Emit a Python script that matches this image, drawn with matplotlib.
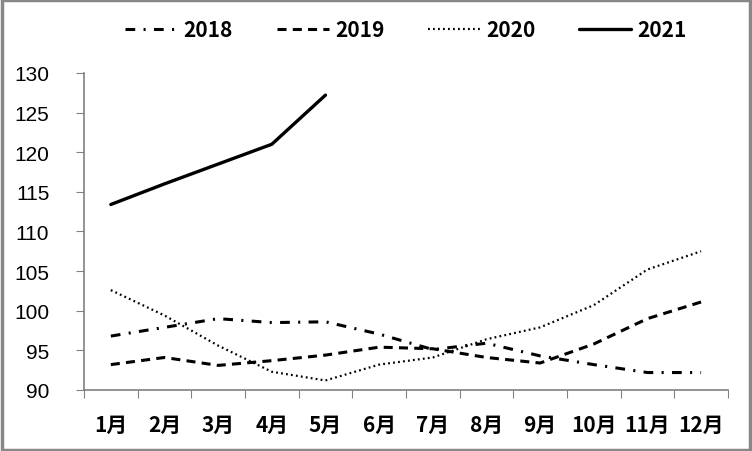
import matplotlib
matplotlib.use("Agg")
import matplotlib.pyplot as plt
from matplotlib.patches import Rectangle

months = ["1月", "2月", "3月", "4月", "5月", "6月", "7月", "8月", "9月", "10月", "11月", "12月"]
y2018 = [96.8, 97.9, 99.0, 98.5, 98.6, 97.05, 95.1, 95.9, 94.3, 93.2, 92.2, 92.2]
y2019 = [93.2, 94.1, 93.1, 93.7, 94.4, 95.4, 95.2, 94.1, 93.4, 95.8, 99.0, 101.1]
y2020 = [102.6, 99.4, 95.6, 92.3, 91.2, 93.2, 94.1, 96.4, 97.9, 100.7, 105.2, 107.5]
y2021 = [113.4, 116.0, 118.5, 121.0, 127.2]
yticks = [90, 95, 100, 105, 110, 115, 120, 125, 130]

plt.rcParams['lines.scale_dashes'] = False
cjk = ['Noto Sans CJK SC', 'DejaVu Sans']
grey = '#808080'

fig = plt.figure(figsize=(7.52, 4.52), dpi=100)
ax = fig.add_axes([0.1117, 0.135, 0.8563, 0.7015])

x = list(range(len(months)))
ax.plot(x, y2018, color='black', lw=2.2, dashes=(7, 6, 1.5, 6), label='2018')
ax.plot(x, y2019, color='black', lw=2.2, dashes=(6.5, 4.5), label='2019')
ax.plot(x, y2020, color='black', lw=1.6, dashes=(1.3, 2.3), label='2020')
ax.plot(x[:len(y2021)], y2021, color='black', lw=2.4, solid_capstyle='round', label='2021')

ax.set_xlim(-0.5, 11.5)
ax.set_ylim(90, 130)
ax.set_yticks(yticks)
ax.set_yticklabels([str(v) for v in yticks], family='Liberation Sans', fontsize=15)
ax.set_xticks([i + 0.5 for i in range(-1, 12)])
ax.set_xticklabels([])
ax.set_xticks(x, minor=True)
ax.set_xticklabels(months, minor=True, family=cjk, fontsize=15, fontweight='bold')
ax.tick_params(axis='x', which='minor', length=0, pad=17)
ax.tick_params(axis='x', which='major', length=6, color=grey, direction='out')
ax.tick_params(axis='y', length=6, color=grey, pad=19)

for s in ['top', 'right']:
    ax.spines[s].set_visible(False)
for s in ['left', 'bottom']:
    ax.spines[s].set_color(grey)
    ax.spines[s].set_linewidth(1.2)

leg = fig.legend(loc='center', bbox_to_anchor=(0.54, 0.932), ncol=4, frameon=False,
                 handlelength=2.5, handletextpad=0.3, columnspacing=2.1,
                 prop={'family': cjk, 'size': 15, 'weight': 'bold'})

fig.patches.append(Rectangle((0.002, 0.003), 0.996, 0.994, transform=fig.transFigure,
                             fill=False, edgecolor='#888888', linewidth=2.5))

fig.savefig('out.png', dpi=100)
